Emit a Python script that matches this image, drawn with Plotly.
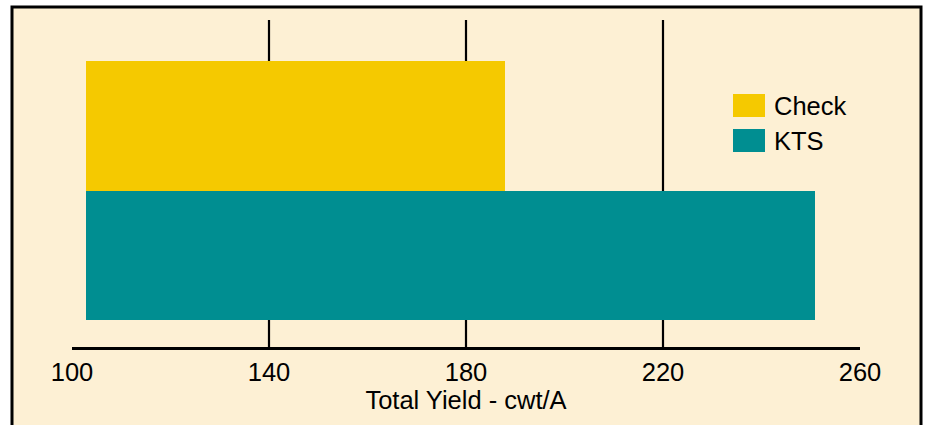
import plotly.graph_objects as go

# ---- data ----
categories = ["KTS", "Check"]          # bottom to top
yield_values = [250.9, 187.9]          # cwt/A
bar_base = 102.8                       # bars start slightly right of 100
series_colors = ["#008E91", "#F5C900"]
tick_values = [100, 140, 180, 220, 260]
tick_labels = ["100", "140", "180", "220", "260"]
grid_values = [140, 180, 220]
legend_names = ["Check", "KTS"]
legend_colors = ["#F5C900", "#008E91"]
axis_title = "Total Yield - cwt/A"

CREAM = "#FDF0D4"
FONT = "Liberation Sans, Arial, Helvetica, sans-serif"
FS = 25.5

# layout geometry (pixels)
W, H = 927, 425
L, R, T, B = 72, 67, 20, 78
pw, ph = W - L - R, H - T - B

def px(xp):
    return (xp - L) / pw

def py(yp):
    return (H - B - yp) / ph

fig = go.Figure()
for cat, val, col in zip(categories, yield_values, series_colors):
    fig.add_trace(go.Bar(
        y=[cat], x=[val - bar_base], base=[bar_base], orientation="h",
        marker=dict(color=col, line=dict(width=0)), showlegend=False,
        name=cat,
    ))

shapes = []
# cream frame with black border
shapes.append(dict(type="rect", xref="paper", yref="paper",
                   x0=px(12), x1=px(921), y0=py(440), y1=py(7),
                   fillcolor=CREAM, line=dict(color="black", width=3),
                   layer="below"))
# vertical grid lines
for g in grid_values:
    shapes.append(dict(type="line", xref="x", yref="paper", x0=g, x1=g,
                       y0=0, y1=1, line=dict(color="black", width=2.2),
                       layer="below"))
# legend swatches
sw_top = [94, 129]
annotations = []
for name, col, top in zip(legend_names, legend_colors, sw_top):
    shapes.append(dict(type="rect", xref="paper", yref="paper",
                       x0=px(733), x1=px(765), y0=py(top + 23), y1=py(top),
                       fillcolor=col, line=dict(width=0), layer="above"))
    annotations.append(dict(xref="paper", yref="paper", x=px(772),
                            y=py(top + 11.5), text=name, showarrow=False,
                            xanchor="left", yanchor="middle",
                            font=dict(family=FONT, size=FS, color="black")))

fig.update_layout(
    width=W, height=H,
    margin=dict(l=L, r=R, t=T, b=B, pad=0),
    paper_bgcolor="white",
    plot_bgcolor="rgba(0,0,0,0)",
    bargap=0,
    showlegend=False,
    shapes=shapes,
    annotations=annotations,
    font=dict(family=FONT, size=FS, color="black"),
    xaxis=dict(
        range=[100, 260], tickvals=tick_values, ticktext=tick_labels,
        showgrid=False, zeroline=False, showline=True, linecolor="black",
        linewidth=3, ticks="", tickfont=dict(size=FS),
        title=dict(text=axis_title, font=dict(size=FS), standoff=0),
        fixedrange=True,
    ),
    yaxis=dict(
        categoryorder="array", categoryarray=categories,
        range=[-0.704, 1.812], showgrid=False, zeroline=False,
        showline=False, showticklabels=False, ticks="", fixedrange=True,
    ),
)

fig.write_html("out.html")
